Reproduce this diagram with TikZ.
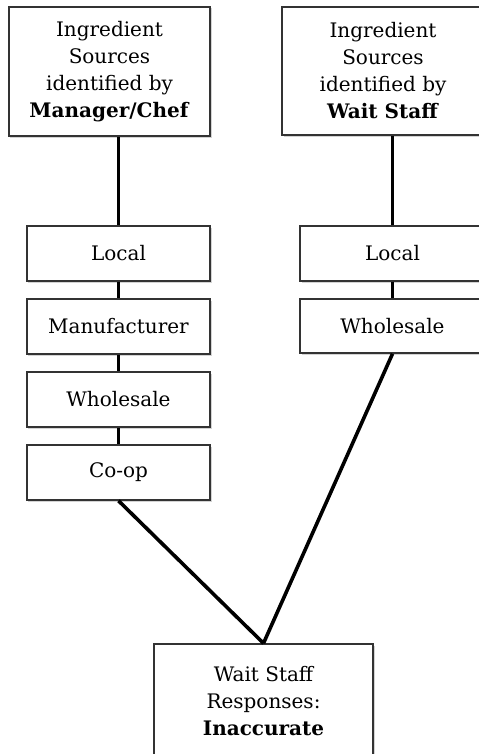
\documentclass[tikz,border=0pt]{standalone}
\usepackage{fontspec}
\setmainfont{DejaVu Serif}
\usetikzlibrary{shadows}
\begin{document}
\begin{tikzpicture}[x=1bp,y=-1bp,
  box/.style={draw=black!80, line width=1.5bp, fill=white, align=center,
    font=\fontsize{20bp}{27bp}\selectfont, inner sep=0pt,
    drop shadow={shadow xshift=1.5bp, shadow yshift=-1.5bp, opacity=0.35}},
  conn/.style={line width=3.6bp, draw=black}]
\useasboundingbox (0,0) rectangle (479,754);
% top boxes
\node[box, minimum width=201bp, minimum height=129bp] (mgr) at (109.5,71.5)
  {Ingredient\\Sources\\identified by\\\textbf{Manager/Chef}};
\node[box, minimum width=202bp, minimum height=128bp] (wait) at (383,71)
  {Ingredient\\Sources\\identified by\\\textbf{Wait Staff}};
% left column
\node[box, minimum width=183bp, minimum height=55bp] (l1) at (118.5,253.5) {Local};
\node[box, minimum width=183bp, minimum height=55bp] (l2) at (118.5,326.5) {Manufacturer};
\node[box, minimum width=183bp, minimum height=55bp] (l3) at (118.5,399.5) {Wholesale};
\node[box, minimum width=183bp, minimum height=55bp] (l4) at (118.5,472.5) {Co-op};
% right column
\node[box, minimum width=185bp, minimum height=55bp] (r1) at (392.5,253.5) {Local};
\node[box, minimum width=185bp, minimum height=54bp] (r2) at (392.5,326) {Wholesale};
% bottom box
\node[box, minimum width=219bp, minimum height=114bp] (res) at (263.5,701)
  {Wait Staff\\Responses:\\\textbf{Inaccurate}};
% connectors
\draw[conn] (mgr.south -| l1.north) -- (l1.north);
\draw[conn] (l1.south) -- (l2.north);
\draw[conn] (l2.south) -- (l3.north);
\draw[conn] (l3.south) -- (l4.north);
\draw[conn] (wait.south -| r1.north) -- (r1.north);
\draw[conn] (r1.south) -- (r2.north);
\draw[conn] (l4.south) -- (res.north);
\draw[conn] (r2.south) -- (res.north);
\end{tikzpicture}
\end{document}
